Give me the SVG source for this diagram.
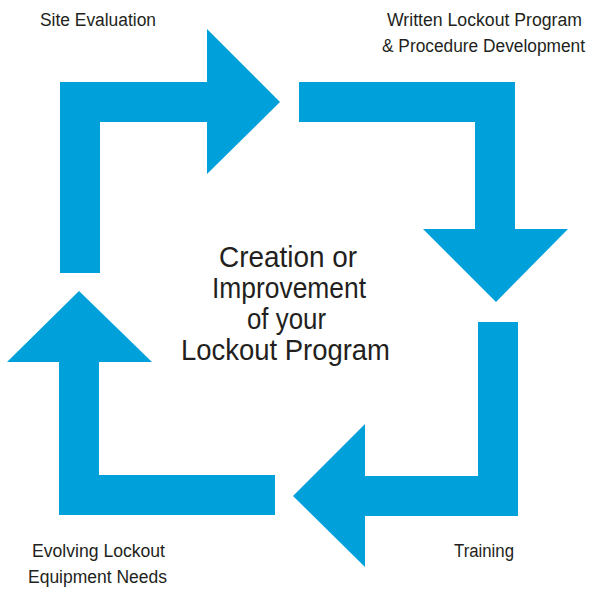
<svg xmlns="http://www.w3.org/2000/svg" width="589" height="590" viewBox="0 0 589 590">
<style>
.arrow{fill:#00A0DB;stroke:none}
.lbl{font-family:"Liberation Sans",Arial,sans-serif;font-size:19px;fill:#231F20}
.ctr{font-family:"Liberation Sans",Arial,sans-serif;font-size:30px;fill:#231F20}
</style>
<rect width="589" height="590" fill="#ffffff"/>
<g id="connectors">
<path class="arrow" d="M60,273 L60,82 L207,82 L207,29 L280,102 L207,174 L207,122 L100,122 L100,273 Z"/>
<path class="arrow" d="M299,82 L515,82 L515,229 L568,229 L496,302 L423,229 L475,229 L475,122 L299,122 Z"/>
<path class="arrow" d="M518,322 L518,516 L365,516 L365,567 L293,496 L365,424 L365,476 L478,476 L478,322 Z"/>
<path class="arrow" d="M275,475 L275,515 L59,515 L59,362 L7,362 L79,291 L152,362 L99,362 L99,475 Z"/>
</g>
<g id="center">
<text class="ctr" transform="matrix(0.9 0 0 1 219 267)" textLength="153.3" lengthAdjust="spacingAndGlyphs">Creation or</text>
<text class="ctr" transform="matrix(0.9 0 0 1 212 298)" textLength="171.1" lengthAdjust="spacingAndGlyphs">Improvement</text>
<text class="ctr" transform="matrix(0.9 0 0 1 247 329)" textLength="87.8" lengthAdjust="spacingAndGlyphs">of your</text>
<text class="ctr" transform="matrix(0.9 0 0 1 181 360)" textLength="232.2" lengthAdjust="spacingAndGlyphs">Lockout Program</text>
</g>
<g id="site-evaluation">
<text class="lbl" transform="matrix(0.9 0 0 1 40 26)" textLength="128.9" lengthAdjust="spacingAndGlyphs">Site Evaluation</text>
</g>
<g id="written-program">
<text class="lbl" transform="matrix(0.9 0 0 1 387 26)" textLength="216.7" lengthAdjust="spacingAndGlyphs">Written Lockout Program</text>
<text class="lbl" transform="matrix(0.9 0 0 1 382 52)" textLength="225.6" lengthAdjust="spacingAndGlyphs">&amp; Procedure Development</text>
</g>
<g id="training">
<text class="lbl" transform="matrix(0.9 0 0 1 454 557)" textLength="66.7" lengthAdjust="spacingAndGlyphs">Training</text>
</g>
<g id="evolving-equipment">
<text class="lbl" transform="matrix(0.9 0 0 1 32 557)" textLength="147.8" lengthAdjust="spacingAndGlyphs">Evolving Lockout</text>
<text class="lbl" transform="matrix(0.9 0 0 1 28 583)" textLength="154.4" lengthAdjust="spacingAndGlyphs">Equipment Needs</text>
</g>
</svg>
